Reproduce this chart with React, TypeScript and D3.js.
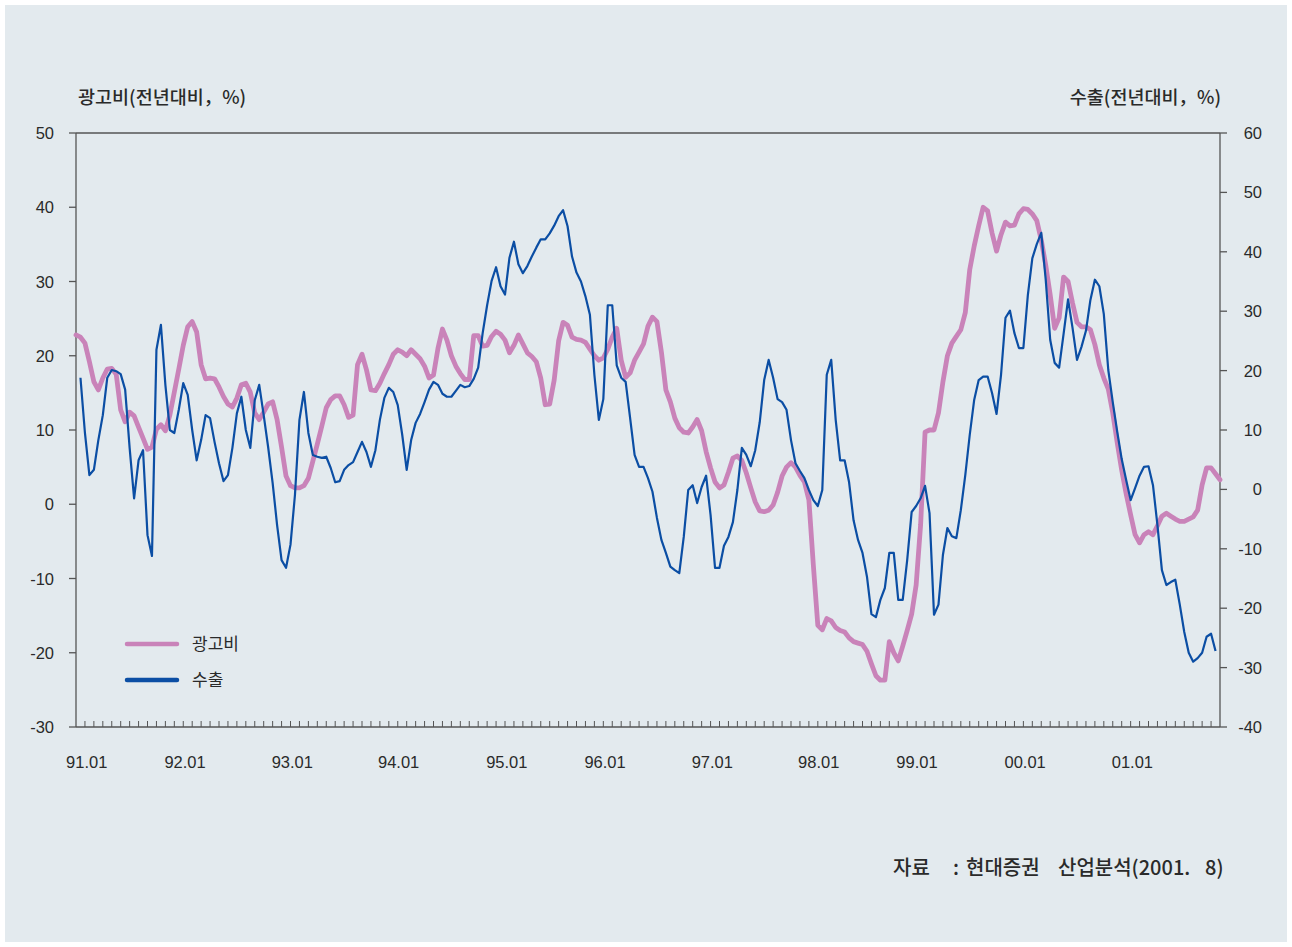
import React from 'react';
import * as d3 from 'd3';

// Semi-monthly observations starting 1991.01 (index i -> month i/2)
const adSpend: number[] = [
  // 1991
  22.8, 22.5, 21.7, 19.2, 16.5, 15.4, 17.0, 18.2, 18.3, 17.5, 12.7, 11.1, 12.4, 11.9, 10.4, 8.9, 7.4, 7.7, 10.1, 10.7, 9.9, 12.0, 15.1, 18.2,
  // 1992
  21.4, 23.9, 24.6, 23.2, 18.8, 16.9, 17.0, 16.9, 15.8, 14.5, 13.5, 13.1, 14.3, 16.1, 16.3, 15.1, 12.3, 11.4, 12.4, 13.5, 13.8, 11.4, 7.7, 3.8,
  // 1993
  2.5, 2.2, 2.2, 2.5, 3.5, 5.8, 8.1, 10.5, 13.0, 14.1, 14.6, 14.6, 13.4, 11.7, 12.0, 18.8, 20.2, 18.1, 15.4, 15.3, 16.3, 17.6, 18.8, 20.2,
  // 1994
  20.8, 20.5, 20.0, 20.8, 20.2, 19.6, 18.6, 17.0, 17.4, 21.0, 23.6, 22.1, 20.0, 18.6, 17.6, 16.8, 16.8, 22.7, 22.7, 21.3, 21.4, 22.6, 23.3, 22.9,
  // 1995
  22.1, 20.4, 21.4, 22.8, 21.6, 20.4, 19.9, 19.2, 17.0, 13.4, 13.5, 16.7, 22.0, 24.5, 24.1, 22.5, 22.2, 22.1, 21.8, 20.9, 20.0, 19.4, 19.7, 20.9,
  // 1996
  22.5, 23.7, 19.4, 17.1, 17.7, 19.4, 20.5, 21.6, 24.0, 25.2, 24.6, 20.5, 15.4, 13.8, 11.6, 10.3, 9.7, 9.6, 10.4, 11.4, 9.9, 7.1, 4.9, 3.0,
  // 1997
  2.2, 2.6, 4.3, 6.2, 6.5, 5.9, 4.2, 2.2, 0.3, -0.9, -1.0, -0.8, -0.1, 1.6, 3.8, 5.0, 5.6, 5.0, 3.9, 3.0, 0.6, -8.2, -16.3, -16.9,
  // 1998
  -15.4, -15.7, -16.6, -17.0, -17.2, -18.0, -18.5, -18.7, -18.9, -19.8, -21.5, -23.1, -23.7, -23.7, -18.5, -20.0, -21.1, -19.1, -17.0, -14.8, -10.9, -2.8, 9.7, 10.0,
  // 1999
  10.0, 12.3, 16.5, 20.0, 21.7, 22.6, 23.5, 25.8, 31.6, 34.8, 37.5, 40.0, 39.5, 36.5, 34.1, 36.3, 38.0, 37.5, 37.6, 39.1, 39.8, 39.7, 39.1, 38.2,
  // 2000
  35.6, 32.2, 28.2, 23.7, 25.1, 30.6, 30.0, 27.1, 24.5, 23.9, 23.9, 23.5, 21.5, 18.8, 17.0, 15.5, 12.3, 8.3, 4.6, 1.4, -1.4, -4.1, -5.2, -4.1,
  // 2001
  -3.7, -4.1, -2.9, -1.6, -1.2, -1.6, -2.0, -2.3, -2.3, -2.0, -1.7, -0.8, 2.6, 4.9, 4.9, 4.1, 3.3,
];

const exportsYoY: (number | null)[] = [
  // 1991
  null, 18.8, 9.5, 2.4, 3.3, 8.3, 12.5, 18.8, 20.1, 19.9, 19.4, 16.8, 7.0, -1.5, 4.9, 6.6, -7.7, -11.2, 23.5, 27.7, 17.6, 10.0, 9.5, 13.4,
  // 1992
  17.9, 15.9, 10.0, 4.9, 8.3, 12.5, 12.0, 8.0, 4.4, 1.4, 2.4, 7.0, 12.8, 15.6, 10.0, 7.0, 15.0, 17.6, 12.5, 7.1, 1.1, -6.0, -11.9, -13.2,
  // 1993
  -9.3, -0.9, 11.7, 16.4, 9.5, 5.8, 5.5, 5.3, 5.5, 3.6, 1.2, 1.4, 3.3, 4.1, 4.6, 6.3, 8.0, 6.3, 3.8, 6.6, 11.7, 15.4, 17.1, 16.4,
  // 1994
  14.2, 9.2, 3.3, 8.3, 11.2, 12.7, 14.7, 16.8, 18.1, 17.6, 16.1, 15.6, 15.6, 16.6, 17.6, 17.2, 17.4, 18.6, 20.5, 26.3, 31.0, 35.1, 37.4, 34.2,
  // 1995
  32.8, 39.0, 41.7, 37.9, 36.4, 37.6, 39.2, 40.7, 42.1, 42.1, 43.1, 44.4, 46.0, 47.0, 44.3, 39.2, 36.5, 35.0, 32.5, 29.4, 19.3, 11.7, 15.2, 31.0,
  // 1996
  31.0, 20.9, 18.8, 18.1, 12.0, 5.8, 3.8, 3.8, 1.9, -0.4, -4.8, -8.5, -10.7, -13.0, -13.6, -14.1, -8.0, -0.1, 0.7, -2.3, 0.4, 2.3, -4.3, -13.2,
  // 1997
  -13.2, -9.5, -8.0, -5.5, -0.1, 7.0, 5.8, 3.9, 6.6, 11.3, 18.4, 21.8, 18.8, 15.2, 14.7, 13.4, 8.3, 4.4, 3.1, 1.9, -0.1, -1.8, -2.8, -0.1,
  // 1998
  19.3, 21.8, 11.7, 4.9, 4.9, 1.2, -5.2, -8.5, -10.7, -14.7, -21.0, -21.5, -18.6, -16.6, -10.7, -10.7, -18.6, -18.6, -11.9, -3.8, -2.8, -1.5, 0.6, -4.0,
  // 1999
  -21.1, -19.4, -11.0, -6.5, -7.9, -8.2, -3.5, 2.4, 9.2, 15.1, 18.4, 19.0, 19.0, 16.2, 12.7, 19.3, 28.9, 30.1, 26.3, 23.8, 23.8, 32.7, 38.9, 41.3,
  // 2000
  43.2, 35.3, 25.2, 21.3, 20.5, 26.2, 32.0, 27.2, 21.8, 24.0, 26.7, 31.9, 35.3, 34.2, 29.5, 20.1, 14.7, 9.7, 5.1, 1.6, -1.8, 0.2, 2.3, 3.8,
  // 2001
  3.9, 0.7, -6.0, -13.6, -16.1, -15.6, -15.2, -19.4, -24.0, -27.5, -29.0, -28.4, -27.5, -24.8, -24.3, -27.2, null,
];

const xLabels = ['91.01', '92.01', '93.01', '94.01', '95.01', '96.01', '97.01', '98.01', '99.01', '00.01', '01.01'];
const xLabelMonths = [1.2, 12.2, 24.2, 36.1, 48.2, 59.2, 71.2, 83.1, 94.1, 106.2, 118.2];
const leftTicks = [50, 40, 30, 20, 10, 0, -10, -20, -30];
const rightTicks = [60, 50, 40, 30, 20, 10, 0, -10, -20, -30, -40];
const monthTicks = d3.range(1, 128);

const seriesNames = ['광고비', '수출'];
const leftTitle = '광고비(전년대비，%)';
const rightTitle = '수출(전년대비，%)';
const sourceParts = ['자료', ':', '현대증권', '산업분석(2001.', '8)'];

const PINK = '#c983b9';
const BLUE = '#0b4ea4';
const BG = '#e3eaee';
const AXIS = '#555';
const TEXT = '#2a2a2a';
const NUM_FONT = '"Liberation Sans", Arial, sans-serif';
const KR_FONT = '"Noto Sans CJK KR", "Noto Sans", sans-serif';

export default function App() {
  const W = 1292;
  const H = 947;
  const left = 76, right = 1220, top = 133, bottom = 727;

  const x = d3.scaleLinear().domain([0, 128]).range([left, right]);
  const yL = d3.scaleLinear().domain([-30, 50]).range([bottom, top]);
  const yR = d3.scaleLinear().domain([-40, 60]).range([bottom, top]);

  const pinkLine = d3.line<number>()
    .x((_, i) => x(i / 2))
    .y((d) => yL(d));
  const blueLine = d3.line<number | null>()
    .defined((d) => d !== null)
    .x((_, i) => x(i / 2))
    .y((d) => yR(d as number));

  const sourceX = [893, 953, 966, 1058, 1205];

  return (
    <svg width={W} height={H} style={{ position: 'absolute', left: 0, top: 0 }}>
      <rect x={0} y={0} width={W} height={H} fill="#fff" />
      <rect x={5} y={5} width={W - 10} height={H - 10} fill={BG} />

      {/* axis titles */}
      <text x={78} y={104} fontFamily={KR_FONT} fontSize={18.5} fontWeight={500} fill={TEXT}>{leftTitle}</text>
      <text x={1221} y={104} textAnchor="end" fontFamily={KR_FONT} fontSize={18.5} fontWeight={500} fill={TEXT}>{rightTitle}</text>

      {/* frame */}
      <line x1={left} x2={right} y1={top} y2={top} stroke={AXIS} strokeWidth={1.3} />
      <line x1={left} x2={right} y1={bottom} y2={bottom} stroke={AXIS} strokeWidth={1.3} />
      <line x1={left} x2={left} y1={top} y2={bottom} stroke={AXIS} strokeWidth={1.3} />
      <line x1={right} x2={right} y1={top} y2={bottom} stroke={AXIS} strokeWidth={1.3} />

      {/* left ticks */}
      {leftTicks.map((t) => (
        <g key={'l' + t}>
          <line x1={left - 7} x2={left} y1={yL(t)} y2={yL(t)} stroke={AXIS} strokeWidth={1.3} />
          <text x={54} y={yL(t) + 6} textAnchor="end" fontFamily={NUM_FONT} fontSize={16.5} fill={TEXT}>{t}</text>
        </g>
      ))}
      {/* right ticks */}
      {rightTicks.map((t) => (
        <g key={'r' + t}>
          <line x1={right} x2={right + 7} y1={yR(t)} y2={yR(t)} stroke={AXIS} strokeWidth={1.3} />
          <text x={1262} y={yR(t) + 6} textAnchor="end" fontFamily={NUM_FONT} fontSize={16.5} fill={TEXT}>{t}</text>
        </g>
      ))}
      {/* month ticks */}
      {monthTicks.map((m) => (
        <line key={'m' + m} x1={x(m)} x2={x(m)} y1={bottom} y2={bottom - 6} stroke={AXIS} strokeWidth={1} />
      ))}
      {xLabels.map((lab, i) => (
        <text key={lab} x={x(xLabelMonths[i])} y={768} textAnchor="middle" fontFamily={NUM_FONT} fontSize={16.5} fill={TEXT}>{lab}</text>
      ))}

      {/* series */}
      <path d={pinkLine(adSpend) || ''} fill="none" stroke={PINK} strokeWidth={4.8} strokeLinejoin="round" strokeLinecap="round" />
      <path d={blueLine(exportsYoY) || ''} fill="none" stroke={BLUE} strokeWidth={2.2} strokeLinejoin="round" />

      {/* legend */}
      <line x1={127} x2={177} y1={644} y2={644} stroke={PINK} strokeWidth={4.5} strokeLinecap="round" />
      <text x={192} y={650} fontFamily={KR_FONT} fontSize={17} fill={TEXT}>{seriesNames[0]}</text>
      <line x1={127} x2={177} y1={680} y2={680} stroke={BLUE} strokeWidth={4.5} strokeLinecap="round" />
      <text x={192} y={686} fontFamily={KR_FONT} fontSize={17} fill={TEXT}>{seriesNames[1]}</text>

      {/* source */}
      <text y={875} fontFamily={KR_FONT} fontSize={20} fontWeight={500} fill={TEXT}>
        {sourceParts.map((p, i) => (
          <tspan key={i} x={sourceX[i]}>{p}</tspan>
        ))}
      </text>
    </svg>
  );
}
